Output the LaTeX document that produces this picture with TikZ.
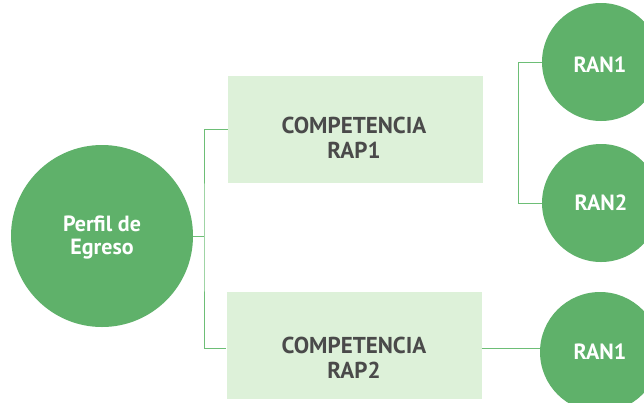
\documentclass[tikz,border=0pt]{standalone}
\usepackage{fontspec}
\setmainfont{PT Sans}
\definecolor{circgreen}{HTML}{5FB16A}
\definecolor{boxgreen}{HTML}{DDF1D9}
\definecolor{linegreen}{HTML}{6DBE76}
\definecolor{boxtext}{HTML}{4A4A4A}
\begin{document}
\begin{tikzpicture}[x=1pt,y=-1pt,
  bigcirc/.style={circle,fill=circgreen,draw=none,minimum size=#1,inner sep=0pt,
    text=white,font=\bfseries\fontsize{22}{24}\selectfont,align=center},
  compbox/.style={rectangle,fill=boxgreen,draw=none,minimum width=255pt,minimum height=107pt},
  comptext/.style={text=boxtext,font=\bfseries\fontsize{23}{25}\selectfont,align=center,inner sep=0pt},
  conn/.style={draw=linegreen,line width=1pt}]
\useasboundingbox (0,0) rectangle (644,402);
\clip (0,0) rectangle (644,402);
\fill[white] (0,0) rectangle (644,402);
\node[bigcirc=182pt] (perfil) at (102,236) {};
\node[text=white,font=\bfseries\fontsize{22}{23}\selectfont,align=center] (perfilt) at (102,238) {Perfil de\\Egreso};
\node[compbox] (rap1) at (355.5,129) {};
\node[comptext] (rap1t) at (354,138) {COMPETENCIA\\RAP1};
\node[compbox] (rap2) at (354,345.5) {};
\node[comptext] (rap2t) at (354,358) {COMPETENCIA\\RAP2};
\node[bigcirc=118pt] (ran1a) at (601,62) {};
\node[text=white,font=\bfseries\fontsize{22}{24}\selectfont] (ran1at) at (600,65) {RAN1};
\node[bigcirc=118pt] (ran2) at (601,203) {RAN2};
\node[bigcirc=120pt] (ran1b) at (600,352) {RAN1};
\coordinate (spine) at (204,236);
\coordinate (brk) at (518,62);
\draw[conn] (perfil.east) -- (spine);
\draw[conn] (rap1.west |- 0,129) -| (spine |- 0,236) |- (rap2.west |- 0,348);
\draw[conn] (rap2.east |- 0,348) -- (ran1b.west |- 0,348);
\draw[conn] (ran1a.west) -- (brk) |- (ran2.west);
\end{tikzpicture}
\end{document}
